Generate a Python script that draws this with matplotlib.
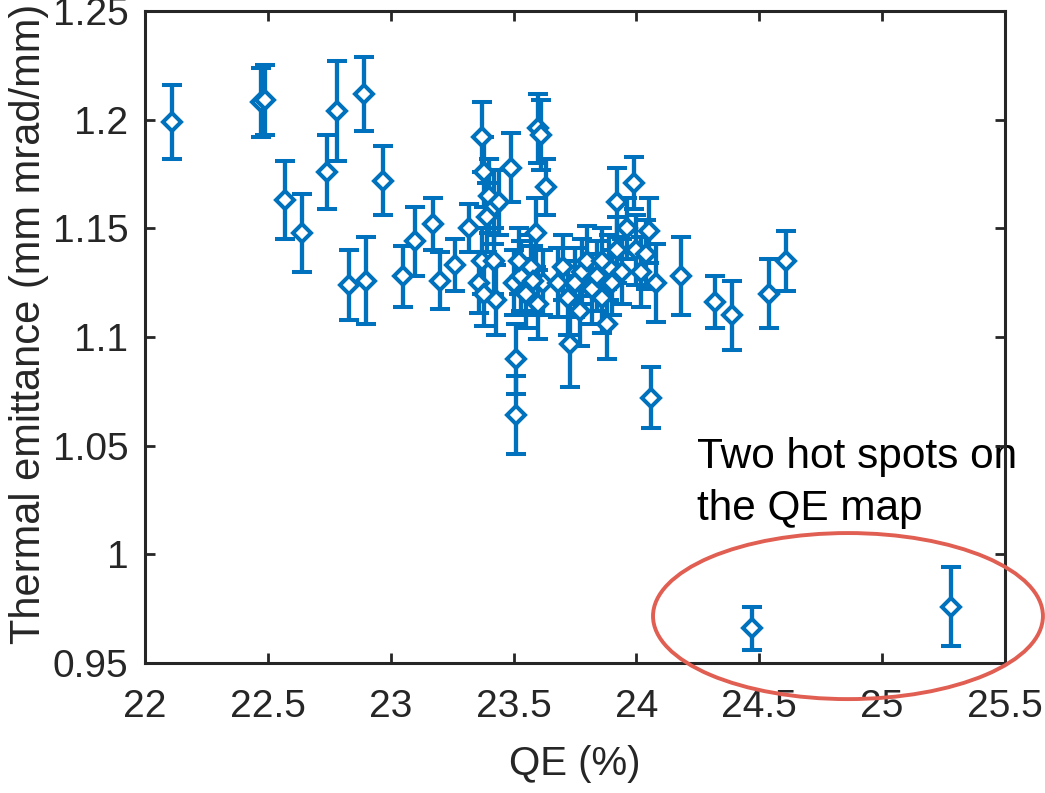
import matplotlib
matplotlib.use("Agg")
import matplotlib.pyplot as plt
from matplotlib.patches import Ellipse

plt.rcParams['font.family'] = ['Liberation Sans', 'DejaVu Sans']

qe = [22.11, 22.47, 22.49, 22.57, 22.64, 22.74, 22.78, 22.89, 22.97, 22.83,
      22.90, 23.05, 23.10, 23.17, 23.20, 23.26, 23.32,
      23.37, 23.38, 23.40, 23.42, 23.39, 23.44, 23.37, 23.36, 23.42, 23.43, 23.38, 23.49,
      23.60, 23.61, 23.63, 23.59, 23.51, 23.51, 23.50, 23.53, 23.55, 23.57, 23.60, 23.52, 23.62, 23.58,
      23.73, 23.68, 23.70, 23.72, 23.75, 23.77, 23.78, 23.80, 23.82, 23.84, 23.86, 23.88, 23.89, 23.90,
      23.92, 23.86, 23.94,
      23.92, 23.99, 23.96, 24.00, 24.02, 24.05, 24.06, 24.08, 24.04,
      24.18, 24.32, 24.39, 24.54, 24.61, 24.47, 25.28]
emit = [1.199, 1.208, 1.209, 1.163, 1.148, 1.176, 1.204, 1.212, 1.172, 1.124,
        1.126, 1.128, 1.144, 1.152, 1.126, 1.133, 1.150,
        1.192, 1.176, 1.165, 1.160, 1.155, 1.162, 1.135, 1.125, 1.135, 1.117, 1.120, 1.178,
        1.196, 1.193, 1.169, 1.148, 1.090, 1.064, 1.125, 1.128, 1.120, 1.132, 1.115, 1.135, 1.125, 1.126,
        1.097, 1.125, 1.132, 1.118, 1.125, 1.112, 1.130, 1.135, 1.122, 1.128, 1.118, 1.106, 1.132, 1.125,
        1.140, 1.135, 1.130,
        1.162, 1.171, 1.150, 1.140, 1.130, 1.149, 1.072, 1.125, 1.138,
        1.128, 1.116, 1.110, 1.120, 1.135, 0.966, 0.976]
err = [0.017, 0.016, 0.016, 0.018, 0.018, 0.017, 0.023, 0.017, 0.016, 0.016,
       0.020, 0.014, 0.016, 0.012, 0.013, 0.012, 0.011,
       0.016, 0.016, 0.017, 0.017, 0.016, 0.015, 0.015, 0.014, 0.015, 0.016, 0.015, 0.016,
       0.016, 0.016, 0.013, 0.016, 0.016, 0.018, 0.015, 0.016, 0.016, 0.015, 0.016, 0.015, 0.015, 0.016,
       0.020, 0.016, 0.015, 0.017, 0.016, 0.016, 0.015, 0.016, 0.016, 0.016, 0.016, 0.016, 0.015, 0.015,
       0.015, 0.015, 0.015,
       0.016, 0.012, 0.014, 0.016, 0.016, 0.015, 0.014, 0.018, 0.016,
       0.018, 0.012, 0.016, 0.016, 0.014, 0.010, 0.018]

x_ticks = [22, 22.5, 23, 23.5, 24, 24.5, 25, 25.5]
x_ticklabels = ['22', '22.5', '23', '23.5', '24', '24.5', '25', '25.5']
y_ticks = [0.95, 1.0, 1.05, 1.1, 1.15, 1.2, 1.25]
y_ticklabels = ['0.95', '1', '1.05', '1.1', '1.15', '1.2', '1.25']

blue = '#0072BD'
red = '#E05E52'
dark = '#262626'

fig = plt.figure(figsize=(10.45, 7.93), dpi=100)
ax = fig.add_axes([0.1388, 0.1639, 0.8229, 0.8222])

ax.errorbar(qe, emit, yerr=err, fmt='D', color=blue, mfc='white', mec=blue,
            ms=9, mew=2.9, elinewidth=3.1, capsize=7, capthick=3.1, zorder=3)

ax.set_xlim(22, 25.5)
ax.set_ylim(0.95, 1.25)
ax.set_xticks(x_ticks)
ax.set_xticklabels(x_ticklabels)
ax.set_yticks(y_ticks)
ax.set_yticklabels(y_ticklabels)
ax.tick_params(direction='in', top=True, right=True, length=7, width=2,
               labelsize=28, colors=dark)
ax.tick_params(axis='x', pad=19)
ax.tick_params(axis='y', pad=12)
for s in ax.spines.values():
    s.set_linewidth(2.2)
    s.set_color(dark)

ax.set_xlabel('QE (%)', fontsize=29, color=dark, labelpad=14)
ax.set_ylabel('Thermal emittance (mm mrad/mm)', fontsize=30, color=dark)
ax.yaxis.set_label_coords(-0.112, 0.52)

ax.text(24.247, 1.0397, 'Two hot spots on', fontsize=30.5, color='black',
        ha='left', va='baseline', zorder=1)
ax.text(24.247, 1.0158, 'the QE map', fontsize=30.5, color='black',
        ha='left', va='baseline', zorder=1)

ell = Ellipse((24.861, 0.9716), 1.587, 0.0764, fill=False, edgecolor=red,
              linewidth=2.8, clip_on=False, zorder=4)
ax.add_patch(ell)

fig.savefig('out.png', dpi=100)
